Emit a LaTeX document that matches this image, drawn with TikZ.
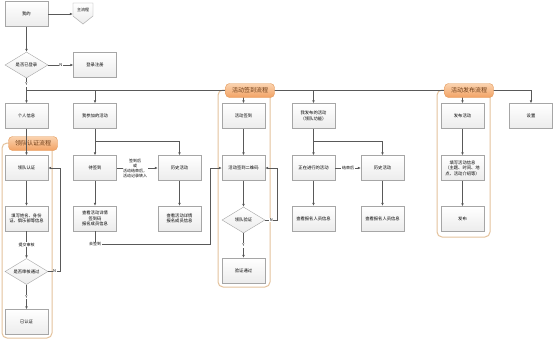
\documentclass[tikz,border=0pt]{standalone}
\usepackage{fontspec}
\newfontfamily\cjk{Noto Sans CJK SC}
\usetikzlibrary{shapes.geometric,arrows.meta,shadows}
\definecolor{grpline}{HTML}{E4C29C}
\definecolor{tagtop}{HTML}{FBD3AF}
\definecolor{tagbot}{HTML}{F2A264}
\definecolor{tagline}{HTML}{E3995A}
\definecolor{tagtext}{HTML}{6B3A14}
\begin{document}
\begin{tikzpicture}[x=1pt,y=-1pt,
  box/.style={draw=gray!70, top color=white, bottom color=gray!15, minimum width=43pt, minimum height=25pt, inner sep=1pt, text width=41pt, align=center, font=\cjk\fontsize{4.3}{5.6}\selectfont, drop shadow={shadow xshift=0.7pt, shadow yshift=-0.7pt, opacity=0.25}},
  dia/.style={diamond, draw=gray!70, top color=white, bottom color=gray!15, minimum width=43pt, minimum height=26pt, aspect=1.65, inner sep=0pt, font=\cjk\fontsize{4.3}{5.6}\selectfont},
  ln/.style={draw=gray!70!black, line width=0.5pt},
  arr/.style={ln, -{Latex[length=3pt,width=2.6pt]}},
  lbl/.style={font=\cjk\fontsize{4}{5}\selectfont, fill=white, inner sep=0.6pt, align=center},
  grp/.style={draw=grpline, line width=1pt, rounded corners=5pt},
  tag/.style={draw=tagline, top color=tagtop, bottom color=tagbot, rounded corners=4pt, minimum width=49pt, minimum height=14pt, inner sep=0pt, font=\cjk\fontsize{6}{7}\selectfont, text=tagtext}
]
\useasboundingbox (0,0) rectangle (554,341);
\fill[white] (0,0) rectangle (554,341);

% group containers
\draw[grp] (2,143) rectangle (52,338);
\draw[grp] (218,90) rectangle (270,287);
\draw[grp] (437,90) rectangle (490,237);

% top part
\node[box] (wo) at (26.5,14) {我的};
\node[font=\cjk\fontsize{4}{5}\selectfont, minimum width=20pt, inner sep=0pt] (zhu) at (83,10) {主流程};
\draw[draw=gray!70, top color=white, bottom color=gray!15] (73,3) -- (93,3) -- (93,16) -- (83,24) -- (73,16) -- cycle;
\node[font=\cjk\fontsize{4}{5}\selectfont] at (83,10) {主流程};
\node[dia] (d1) at (26.5,65) {是否已登录};
\node[box] (denglu) at (95,65) {登录注册};

% second row
\node[box] (geren) at (26.5,116) {个人信息};
\node[box] (canjia) at (95,116) {我参加的活动};
\node[box] (qiandao) at (243.5,116) {活动签到};
\node[box] (wofabu) at (313.5,116) {我发布的活动\\（领队功能）};
\node[box] (fabuhd) at (462.5,116) {发布活动};
\node[box] (shezhi) at (531,116) {设置};

% third row
\node[box] (renzheng) at (26.5,168) {领队认证};
\node[box] (daiqian) at (95,168) {待签到};
\node[box] (lishi1) at (179.5,168) {历史活动};
\node[box] (qrcode) at (243.5,168) {活动签到二维码};
\node[box] (zhengzai) at (313.5,168) {正在进行的活动};
\node[box] (lishi2) at (382.5,168) {历史活动};
\node[box] (tianxie2) at (462.5,168) {填写活动信息\\（主题、时间、地\\点、活动介绍等）};

% fourth row
\node[box] (tianxie1) at (26.5,218.5) {填写姓名、身份\\证、俱乐部等信息};
\node[box] (chakan1) at (95,218.5) {查看活动详情\\签到码\\报名成员信息};
\node[box] (chakan2) at (179.5,218.5) {查看活动详情\\报名成员信息};
\node[dia] (d3) at (243.5,220) {领队验证};
\node[box] (chakan3) at (313.5,218.5) {查看报名人员信息};
\node[box] (chakan4) at (382.5,218.5) {查看报名人员信息};
\node[box] (fabu) at (462.5,219) {发布};

% fifth row
\node[dia] (d2) at (26.5,271.5) {是否审核通过};
\node[box] (yanzheng) at (243.5,270.5) {验证通过};
\node[box] (yirenzheng) at (26.5,322) {已认证};

% top connectors
\draw[arr] (wo.east) -- (wo.east -| zhu.west);
\draw[arr] (wo.south) -- (d1.north);
\draw[arr] (d1.east) -- node[lbl] {N} (denglu.west);
\draw[arr] (d1.south) -- node[lbl, pos=0.25] {Y} (geren.north);
\coordinate (b0) at (26.5,90);
\coordinate (b1) at (531,90);
\draw[ln] (b0) -- (b1);
\draw[arr] (b0 -| canjia) -- (canjia.north);
\draw[arr] (b0 -| qiandao) -- (qiandao.north);
\draw[arr] (b0 -| wofabu) -- (wofabu.north);
\draw[arr] (b0 -| fabuhd) -- (fabuhd.north);
\draw[arr] (b1) -- (shezhi.north);

% tags
\node[tag] (tag1) at (33,143.5) {领队认证流程};
\node[tag] (tag2) at (250,90.5) {活动签到流程};
\node[tag] (tag3) at (469,90.5) {活动发布流程};

% left flow
\draw[arr] (geren.south) -- (renzheng.north);
\draw[arr] (renzheng.south) -- (tianxie1.north);
\draw[arr] (tianxie1.south) -- node[lbl] {提交审核} (d2.north);
\draw[arr] (d2.south) -- node[lbl] {Y} (yirenzheng.north);
\coordinate (n2) at (60,271.5);
\draw[arr] (d2.east) -- node[lbl, pos=0.55] {N} (n2) |- (renzheng.east);

% my joined activities
\coordinate (c1) at (95,141.5);
\draw[arr] (canjia.south) -- (daiqian.north);
\draw[arr] (c1) -| (lishi1.north);
\draw[arr] (daiqian.east) -- node[lbl, pos=0.45] {签到后\\或\\活动结束后，\\活动记录转入} (lishi1.west);
\draw[arr] (daiqian.south) -- (chakan1.north);
\draw[arr] (lishi1.south) -- (chakan2.north);
\coordinate (q0) at (95,244);
\coordinate (q1) at (210,244);
\draw[arr] (chakan1.south) -- (q0) -- (q1) |- (qrcode.west);
\node[lbl] (qu) at (q0) {去签到};

% check-in flow
\draw[arr] (qiandao.south) -- (qrcode.north);
\draw[arr] (qrcode.south) -- (d3.north);
\draw[arr] (d3.south) -- node[lbl] {Y} (yanzheng.north);
\coordinate (n3) at (277.5,220);
\draw[arr] (d3.east) -- node[lbl, pos=0.5] {N} (n3) |- (qrcode.east);

% published activities
\coordinate (c2) at (313.5,141.5);
\draw[arr] (wofabu.south) -- (zhengzai.north);
\draw[arr] (c2) -| (lishi2.north);
\draw[arr] (zhengzai.east) -- node[lbl] {结束后} (lishi2.west);
\draw[arr] (zhengzai.south) -- (chakan3.north);
\draw[arr] (lishi2.south) -- (chakan4.north);

% publish flow
\draw[arr] (fabuhd.south) -- (tianxie2.north);
\draw[arr] (tianxie2.south) -- (fabu.north);
\end{tikzpicture}
\end{document}
